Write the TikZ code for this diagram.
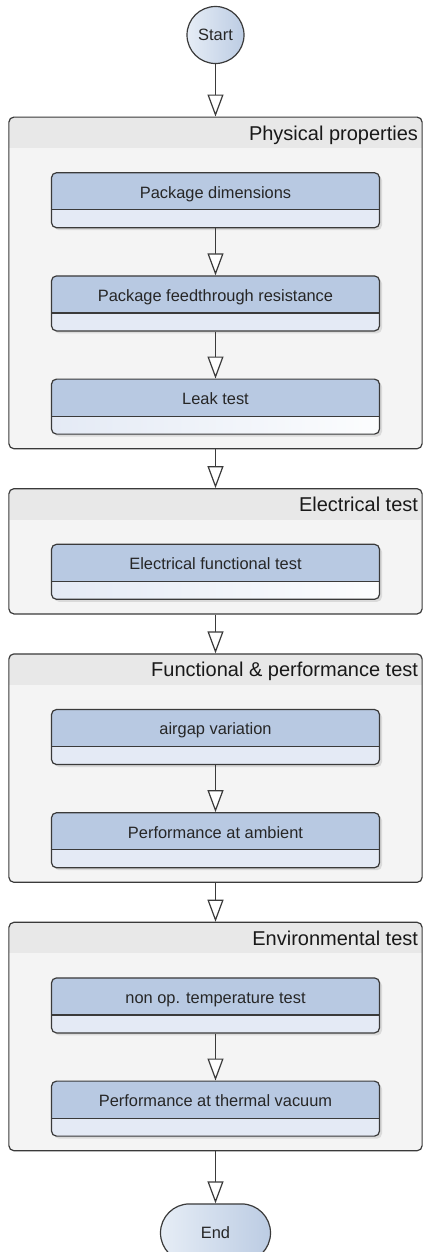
\documentclass[tikz,border=0pt]{standalone}
\usepackage{fontspec}
\setmainfont{Liberation Sans}
\usepackage{tikz}
\usetikzlibrary{positioning, fit, backgrounds, shadows, shapes.misc, arrows.meta}

\definecolor{linec}{HTML}{3A3A3A}
\definecolor{textc}{HTML}{262626}
\definecolor{groupfill}{HTML}{F4F4F4}
\definecolor{grouphead}{HTML}{E8E8E8}
\definecolor{tasktop}{HTML}{B8C9E2}
\definecolor{taskbot}{HTML}{E4EAF5}
\definecolor{taskfade}{HTML}{FCFDFE}
\definecolor{termlight}{HTML}{E6EDF6}
\definecolor{termdark}{HTML}{BCCCE3}

\tikzset{
    flow/.style={draw=linec, line width=1.2bp, -{Triangle[width=16bp, length=22bp, fill=white]}},
    taskbox/.style={draw=linec, line width=1.2bp, rounded corners=5bp, fill=tasktop,
        minimum width=328bp, minimum height=55bp, inner sep=0pt,
        text height=12bp, text depth=16.4bp, text=textc,
        font=\fontsize{16.4bp}{19bp}\selectfont,
        drop shadow={shadow xshift=2.5bp, shadow yshift=-2.5bp, opacity=0.22},
        path picture={
            \shade[sharp corners, left color=taskbot, right color=#1]
                (path picture bounding box.south west) rectangle ([yshift=18bp]path picture bounding box.south east);
            \draw[sharp corners, linec, line width=1.2bp]
                ([yshift=18bp]path picture bounding box.south west) -- ([yshift=18bp]path picture bounding box.south east);
        }},
    taskbox/.default=taskbot,
    groupbox/.style={draw=linec, line width=1.2bp, rounded corners=5bp, fill=groupfill, inner sep=0pt,
        path picture={
            \fill[sharp corners, grouphead]
                (path picture bounding box.north west) rectangle ([yshift=-31bp]path picture bounding box.north east);
        }},
    grouptitle/.style={anchor=base east, inner sep=0pt, text=black!90, font=\fontsize{20bp}{24bp}\selectfont},
    terminal/.style={draw=linec, line width=1.2bp, left color=termlight, right color=termdark,
        inner sep=0pt, text=textc, font=\fontsize{16.4bp}{19bp}\selectfont},
}

\begin{document}
\begin{tikzpicture}[x=1bp, y=-1bp]
    \useasboundingbox (0,0) rectangle (422,1252);

    \node [terminal, circle, minimum size=57bp] (start) at (215.5,35) {Start};

    \node [taskbox, below=108bp of start] (t1) {Package dimensions};
    \node [taskbox, below=47bp of t1] (t2) {Package feedthrough resistance};
    \node [taskbox=taskfade, below=47bp of t2] (t3) {Leak test};

    \node [taskbox=taskfade, below=109bp of t3] (t4) {Electrical functional test};

    \node [taskbox, below=109bp of t4] (t5) {airgap variation};
    \node [taskbox, below=47bp of t5] (t6) {Performance at ambient};

    \node [taskbox, below=109bp of t6] (t7) {non op. temperature test};
    \node [taskbox, below=47bp of t7] (t8) {Performance at thermal vacuum};

    \begin{scope}[on background layer]
        \node [groupbox, fit={([xshift=-42bp, yshift=55bp]t1.north west) ([xshift=42bp, yshift=-14bp]t3.south east)}] (g1) {};
        \node [groupbox, fit={([xshift=-42bp, yshift=55bp]t4.north west) ([xshift=42bp, yshift=-14bp]t4.south east)}] (g2) {};
        \node [groupbox, fit={([xshift=-42bp, yshift=55bp]t5.north west) ([xshift=42bp, yshift=-14bp]t6.south east)}] (g3) {};
        \node [groupbox, fit={([xshift=-42bp, yshift=55bp]t7.north west) ([xshift=42bp, yshift=-14bp]t8.south east)}] (g4) {};

        \node [grouptitle] (g1t) at ([xshift=-4.5bp, yshift=-23.5bp]g1.north east) {Physical properties};
        \node [grouptitle] (g2t) at ([xshift=-4.5bp, yshift=-23.5bp]g2.north east) {Electrical test};
        \node [grouptitle] (g3t) at ([xshift=-4.5bp, yshift=-23.5bp]g3.north east) {Functional \& performance test};
        \node [grouptitle] (g4t) at ([xshift=-4.5bp, yshift=-23.5bp]g4.north east) {Environmental test};
    \end{scope}

    \node [terminal, rounded rectangle, minimum width=110bp, minimum height=58bp, below=52bp of g4] (finish) {End};

    \draw [flow] (start.south) -- (g1.north);
    \draw [flow] (t1.south) -- (t2.north);
    \draw [flow] (t2.south) -- (t3.north);
    \draw [flow] (g1.south) -- (g2.north);
    \draw [flow] (g2.south) -- (g3.north);
    \draw [flow] (t5.south) -- (t6.north);
    \draw [flow] (g3.south) -- (g4.north);
    \draw [flow] (t7.south) -- (t8.north);
    \draw [flow] (g4.south) -- (finish.north);
\end{tikzpicture}
\end{document}
